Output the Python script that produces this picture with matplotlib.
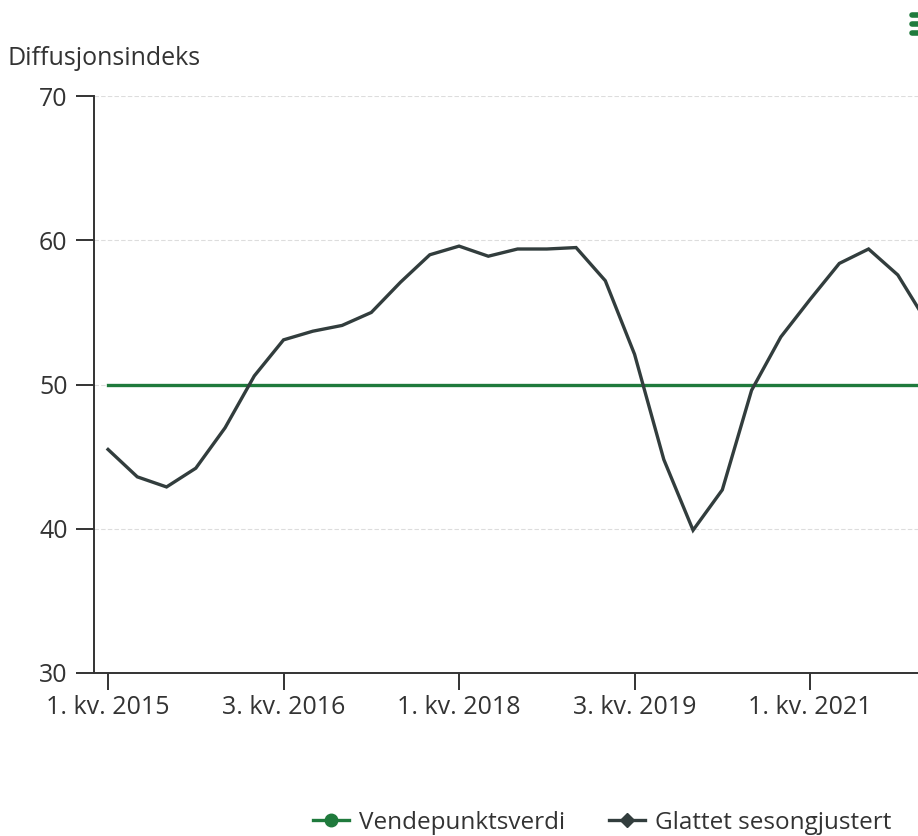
import matplotlib
matplotlib.use("Agg")
import matplotlib.pyplot as plt
from matplotlib.lines import Line2D

plt.rcParams["font.family"] = ["Open Sans", "DejaVu Sans"]

# Kvartalsvise verdier fra 1. kv. 2015
quarter_idx = list(range(29))
glattet = [45.5, 43.6, 42.9, 44.2, 47.0, 50.6, 53.1, 53.7, 54.1, 55.0,
           57.1, 59.0, 59.6, 58.9, 59.4, 59.4, 59.5, 57.2, 52.1, 44.8,
           39.9, 42.7, 49.6, 53.3, 55.9, 58.4, 59.4, 57.6, 54.3]
vendepunkt = [50.0] * len(quarter_idx)

tick_pos = [0, 6, 12, 18, 24]
tick_labels = ["1. kv. 2015", "3. kv. 2016", "1. kv. 2018", "3. kv. 2019", "1. kv. 2021"]
y_ticks = [30, 40, 50, 60, 70]

green = "#1f7a3c"
dark = "#323d3d"
axis_col = "#333333"
text_col = "#333333"

fig = plt.figure(figsize=(9.18, 8.36), dpi=100)
ax = fig.add_axes([0.1024, 0.195, 0.8976, 0.690])

ax.plot(quarter_idx, vendepunkt, color=green, linewidth=2.4, zorder=3)
ax.plot(quarter_idx, glattet, color=dark, linewidth=2.4, zorder=4,
        solid_joinstyle="miter")

ax.set_xlim(-0.48, 27.69)
ax.set_ylim(30, 70)
ax.set_yticks(y_ticks)
ax.set_xticks(tick_pos)
ax.set_xticklabels(tick_labels)

ax.tick_params(axis="y", length=13, width=1.4, color=axis_col, labelsize=18,
               labelcolor=text_col, pad=6)
ax.tick_params(axis="x", length=12, width=1.4, color=axis_col, labelsize=18,
               labelcolor=text_col, pad=4)

for s in ["top", "right"]:
    ax.spines[s].set_visible(False)
for s in ["left", "bottom"]:
    ax.spines[s].set_color(axis_col)
    ax.spines[s].set_linewidth(1.4)

ax.grid(axis="y", color="#dddddd", linestyle=(0, (4, 2)), linewidth=0.8)
ax.set_axisbelow(True)

fig.text(0.008, 0.930, "Diffusjonsindeks", fontsize=18, color=text_col,
         ha="left", va="center")

handles = [
    Line2D([], [], color=green, linewidth=2.4, marker="o", markersize=9),
    Line2D([], [], color=dark, linewidth=2.4, marker="D", markersize=7),
]
fig.legend(handles, ["Vendepunktsverdi", "Glattet sesongjustert"],
           loc="center", bbox_to_anchor=(0.656, 0.016), ncol=2, frameon=False,
           fontsize=17.5, handlelength=1.5, columnspacing=1.8, handletextpad=0.4,
           labelcolor=text_col)

# menyikon oppe til hoyre
for yy in [0.982, 0.971, 0.960]:
    fig.add_artist(Line2D([0.9935, 1.01], [yy, yy], color=green, linewidth=4,
                          solid_capstyle="round", transform=fig.transFigure))

fig.savefig("out.png", dpi=100)
